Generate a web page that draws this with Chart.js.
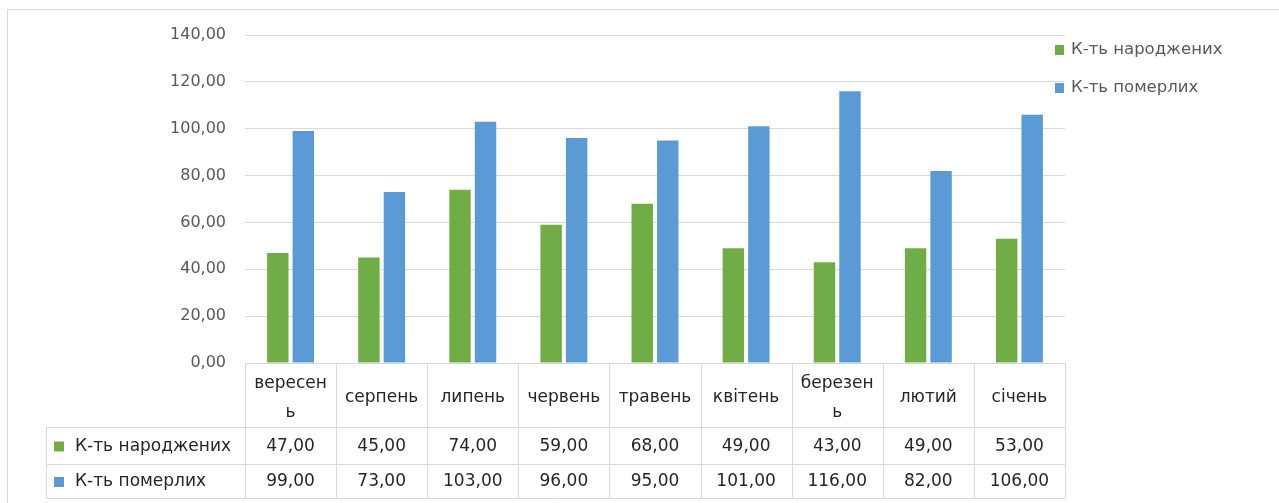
<!DOCTYPE html>
<html>
<head>
<meta charset="utf-8">
<title>Народжені та померлі</title>
<script src="https://cdn.jsdelivr.net/npm/chart.js@4/dist/chart.umd.min.js"></script>
<style>
  html, body { margin: 0; padding: 0; background: #fff; overflow: hidden; }
  canvas { display: block; }
</style>
</head>
<body>
<canvas id="chart" width="1279" height="503"></canvas>
<script>
/* Births vs deaths by month, bar chart with an Excel-style data table underneath. */

var months = [['вересен', 'ь'], 'серпень', 'липень', 'червень', 'травень', 'квітень', ['березен', 'ь'], 'лютий', 'січень'];
var births = [47, 45, 74, 59, 68, 49, 43, 49, 53];
var deaths = [99, 73, 103, 96, 95, 101, 116, 82, 106];
var seriesNames = ['К-ть народжених', 'К-ть померлих'];
var seriesColors = ['#70ad47', '#5b9bd5'];
var yTicks = [0, 20, 40, 60, 80, 100, 120, 140];

var FONT = '"DejaVu Sans", Verdana, sans-serif';

function fmt(n) {
  return Number(n).toFixed(2).replace('.', ',');
}

var tablePlugin = {
  id: 'dataTable',
  afterDraw: function (chart) {
    var ctx = chart.ctx;
    var area = chart.chartArea;
    var n = months.length;
    var colW = (area.right - area.left) / n;
    var headTop = area.bottom;
    var headBottom = 427;
    var rowBottoms = [464, 498];
    var leftCol = 46;

    ctx.save();

    // outer chart border
    ctx.strokeStyle = '#d9d9d9';
    ctx.lineWidth = 1;
    ctx.strokeRect(7.5, 9.5, 1400, 700);

    // legend on the right
    ctx.font = '16.5px ' + FONT;
    ctx.textBaseline = 'middle';
    ctx.textAlign = 'left';
    var legendY = [50, 88];
    for (var s = 0; s < seriesNames.length; s++) {
      ctx.fillStyle = seriesColors[s];
      ctx.fillRect(1055, legendY[s] - 5, 9, 10);
      ctx.fillStyle = '#595959';
      ctx.fillText(seriesNames[s], 1071, legendY[s]);
    }

    // table grid
    ctx.strokeStyle = '#d9d9d9';
    ctx.beginPath();
    ctx.moveTo(area.left, Math.round(headTop) + 0.5);
    ctx.lineTo(area.right, Math.round(headTop) + 0.5);
    var hLines = [headBottom].concat(rowBottoms);
    for (var h = 0; h < hLines.length; h++) {
      ctx.moveTo(leftCol, hLines[h] + 0.5);
      ctx.lineTo(area.right, hLines[h] + 0.5);
    }
    ctx.moveTo(leftCol + 0.5, headBottom);
    ctx.lineTo(leftCol + 0.5, rowBottoms[1]);
    for (var c = 0; c <= n; c++) {
      var vx = Math.round(area.left + c * colW) + 0.5;
      ctx.moveTo(vx, headTop);
      ctx.lineTo(vx, rowBottoms[1]);
    }
    ctx.stroke();

    // header: month names
    ctx.font = '17px ' + FONT;
    ctx.fillStyle = '#262626';
    ctx.textAlign = 'center';
    var headMid = (headTop + headBottom) / 2 + 3;
    for (var i = 0; i < n; i++) {
      var cx = chart.scales.x.getPixelForValue(i);
      var lines = Array.isArray(months[i]) ? months[i] : [months[i]];
      var lh = 29;
      var y0 = headMid - (lines.length - 1) * lh / 2;
      for (var l = 0; l < lines.length; l++) {
        ctx.fillText(lines[l], cx, y0 + l * lh);
      }
    }

    // data rows
    var series = [births, deaths];
    var rowTops = [headBottom, rowBottoms[0]];
    for (var r = 0; r < series.length; r++) {
      var my = (rowTops[r] + rowBottoms[r]) / 2 + 1;
      ctx.fillStyle = seriesColors[r];
      ctx.fillRect(54, my - 5, 10, 10);
      ctx.fillStyle = '#262626';
      ctx.textAlign = 'left';
      ctx.fillText(seriesNames[r], 75, my);
      ctx.textAlign = 'center';
      for (var k = 0; k < n; k++) {
        ctx.fillText(fmt(series[r][k]), chart.scales.x.getPixelForValue(k), my);
      }
    }

    ctx.restore();
  }
};

new Chart(document.getElementById('chart'), {
  type: 'bar',
  data: {
    labels: months,
    datasets: [
      {
        label: seriesNames[0],
        data: births,
        backgroundColor: seriesColors[0],
        categoryPercentage: 0.56,
        barPercentage: 0.84
      },
      {
        label: seriesNames[1],
        data: deaths,
        backgroundColor: seriesColors[1],
        categoryPercentage: 0.56,
        barPercentage: 0.84
      }
    ]
  },
  options: {
    responsive: false,
    animation: false,
    layout: { padding: { top: 35, right: 214, bottom: 140, left: 0 } },
    plugins: {
      legend: { display: false },
      tooltip: { enabled: false }
    },
    scales: {
      x: { display: false },
      y: {
        min: yTicks[0],
        max: yTicks[yTicks.length - 1],
        afterBuildTicks: function (scale) {
          scale.ticks = yTicks.map(function (v) { return { value: v }; });
        },
        afterFit: function (scale) { scale.width = 245; },
        border: { display: false },
        grid: { color: '#d9d9d9', drawTicks: false },
        ticks: {
          padding: 19,
          color: '#595959',
          font: { family: FONT, size: 16 },
          callback: function (v) { return fmt(v); }
        }
      }
    }
  },
  plugins: [tablePlugin]
});
</script>
</body>
</html>
